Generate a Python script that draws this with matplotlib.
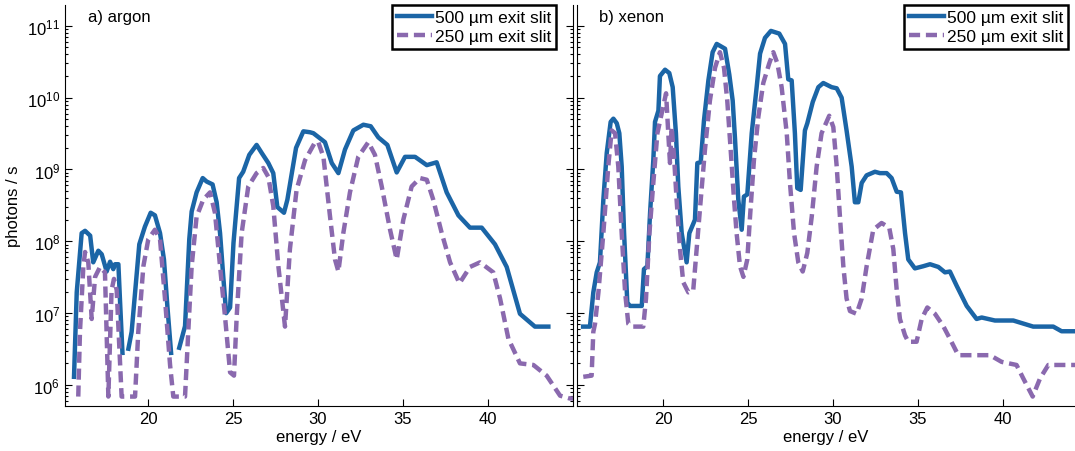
import numpy as np
import matplotlib
matplotlib.use('Agg')
import matplotlib.pyplot as plt

plt.rcParams['font.family'] = ['Liberation Sans Narrow', 'Liberation Sans', 'DejaVu Sans']
plt.rcParams['mathtext.fontset'] = 'custom'
plt.rcParams['mathtext.rm'] = 'Liberation Sans'
plt.rcParams['mathtext.it'] = 'Liberation Sans'

nan = np.nan

# argon, energy in eV and photons / s
ar_e500 = [15.65, 15.81, 16.1, 16.3, 16.6, 16.78, 17.08, 17.28, 17.57, 17.77, 17.96, 18.06, 18.26, 18.35,
           18.5, 18.7, 18.85, 19.04, 19.49, 19.82, 20.16, 20.41, 20.71, 20.94, 21.14, 21.36, 21.6, 21.84,
           22.18, 22.43, 22.57, 22.86, 23.22, 23.45, 23.8, 24.04, 24.24, 24.43, 24.6, 24.83, 25.03, 25.36,
           25.6, 25.96, 26.39, 26.69, 27.08, 27.37, 27.61, 28.0, 28.2, 28.71, 29.14, 29.53, 29.73, 30.41,
           30.81, 31.2, 31.59, 32.08, 32.67, 33.1, 33.55, 34.08, 34.63, 35.12, 35.71, 36.4, 36.98, 37.57,
           38.26, 38.94, 39.63, 40.41, 41.1, 41.88, 42.76, 43.55]
ar_p500 = [1.3e6, 1.95e7, 1.3e8, 1.4e8, 1.2e8, 5.1e7, 7.4e7, 6.6e7, 3.8e7, 5.2e7, 4.1e7, 4.8e7, 4.8e7, 1.6e7,
           2.8e6, nan, 3.2e6, 5.5e6, 9.1e7, 1.6e8, 2.5e8, 2.3e8, 1.3e8, 5.6e7, 1.26e7, 2.8e6, nan, 3.3e6,
           6.6e6, 1.07e8, 2.6e8, 4.8e8, 7.6e8, 6.8e8, 6.2e8, 3.5e8, 1.3e8, 3.2e7, 1.0e7, 1.2e7, 9.5e7, 7.6e8,
           9.3e8, 1.6e9, 2.2e9, 1.7e9, 1.23e9, 8.9e8, 3.0e8, 2.5e8, 3.8e8, 2.0e9, 3.4e9, 3.3e9, 3.2e9, 2.4e9,
           1.23e9, 8.9e8, 1.9e9, 3.5e9, 4.2e9, 4.0e9, 2.8e9, 2.2e9, 9.1e8, 1.5e9, 1.5e9, 1.15e9, 1.26e9, 4.8e8,
           2.3e8, 1.55e8, 1.55e8, 9.1e7, 4.4e7, 9.8e6, 6.5e6, 6.5e6]

ar_e250 = [15.9, 16.0, 16.2, 16.3, 16.49, 16.69, 16.89, 17.18, 17.47, 17.67, 17.86, 18.0, 18.16, 18.45,
           19.24, 19.43, 19.73, 20.02, 20.41, 20.71, 21.0, 21.3, 21.49, 22.18, 22.37, 22.57, 22.86, 23.25,
           23.65, 23.94, 24.24, 24.53, 24.83, 25.06, 25.22, 25.51, 25.9, 26.39, 26.78, 27.08, 27.37, 27.67,
           28.06, 28.35, 28.74, 29.24, 29.83, 30.02, 30.32, 30.71, 31.0, 31.2, 31.49, 31.88, 32.37, 32.96,
           33.35, 33.75, 34.24, 34.63, 35.02, 35.51, 36.0, 36.4, 36.78, 37.28, 37.77, 38.32, 38.94, 39.53,
           40.31, 40.71, 41.2, 41.88, 42.67, 43.45, 44.24, 44.8, 45.0]
ar_p250 = [6.9e5, 5.5e6, 4.5e7, 7.1e7, 5.1e7, 8.3e6, 3.2e7, 4.4e7, 3.7e7, 6.9e5, 2.1e7, 3.0e7, 2.1e7, 6.9e5,
           6.9e5, 5.5e6, 4.5e7, 1.07e8, 1.45e8, 1.07e8, 1.6e7, 1.9e6, 6.9e5, 6.9e5, 5.5e6, 4.5e7, 2.2e8, 3.8e8,
           4.8e8, 2.5e8, 4.5e7, 9.1e6, 1.5e6, 1.35e6, 9.1e6, 1.3e8, 5.8e8, 8.9e8, 1.05e9, 7.9e8, 3.1e8, 4.5e7,
           6.5e6, 7.8e7, 5.2e8, 1.35e9, 2.4e9, 2.4e9, 1.5e9, 2.2e8, 5.6e7, 3.8e7, 1.3e8, 4.8e8, 1.5e9, 2.4e9,
           1.6e9, 5.8e8, 1.45e8, 5.6e7, 2.0e8, 5.8e8, 7.6e8, 7.2e8, 3.8e8, 1.3e8, 5.1e7, 2.6e7, 4.4e7, 5.1e7,
           3.7e7, 1.6e7, 4.4e6, 2.0e6, 1.9e6, 1.35e6, 7.1e5, 6.5e5, 6.5e5]

# xenon
xe_e500 = [15.3, 15.7, 15.9, 16.1, 16.29, 16.49, 16.69, 16.92, 17.08, 17.28, 17.43, 17.57, 17.71, 17.9,
           18.06, 18.75, 18.88, 19.08, 19.24, 19.43, 19.53, 19.73, 19.82, 20.12, 20.37, 20.57, 20.76, 20.9,
           21.1, 21.39, 21.55, 21.88, 22.02, 22.22, 22.41, 22.67, 22.92, 23.16, 23.65, 23.9, 24.1, 24.24,
           24.43, 24.63, 24.76, 24.96, 25.22, 25.51, 25.71, 26.0, 26.35, 26.84, 27.18, 27.37, 27.57, 27.76,
           27.9, 28.1, 28.35, 28.49, 28.81, 29.14, 29.43, 29.92, 30.22, 30.51, 30.8, 31.1, 31.29, 31.49,
           31.69, 31.98, 32.47, 32.76, 33.16, 33.45, 33.75, 34.0, 34.24, 34.43, 34.82, 35.31, 35.71, 36.2,
           36.59, 36.88, 37.28, 37.87, 38.45, 38.75, 39.53, 40.61, 41.78, 42.96, 43.45, 44.3]
xe_p500 = [6.5e6, 6.5e6, 1.95e7, 3.7e7, 5.1e7, 3.8e8, 1.7e9, 4.6e9, 5.1e9, 4.4e9, 3.2e9, 1.1e9, 1.3e8, 1.4e7,
           1.26e7, 1.26e7, 4.1e7, 4.5e7, 2.5e8, 1.35e9, 4.6e9, 6.6e9, 2.0e10, 2.45e10, 2.2e10, 1.4e10, 3.2e9, 5.8e8,
           1.3e8, 5.1e7, 1.3e8, 2.0e8, 1.23e9, 1.26e9, 4.8e9, 1.74e10, 4.3e10, 5.6e10, 4.8e10, 2.1e10, 9.1e9, 2.6e9,
           3.8e8, 1.45e8, 4.2e8, 4.5e8, 3.2e9, 1.4e10, 4.1e10, 6.8e10, 8.5e10, 7.8e10, 5.6e10, 1.8e10, 1.74e10, 3.2e9,
           5.5e8, 5.2e8, 3.5e9, 4.4e9, 8.7e9, 1.4e10, 1.6e10, 1.4e10, 1.35e10, 1.0e10, 3.5e9, 1.1e9, 3.5e8, 3.5e8,
           6.5e8, 8.3e8, 9.3e8, 8.9e8, 8.9e8, 7.6e8, 4.9e8, 4.8e8, 1.3e8, 5.6e7, 4.2e7, 4.5e7, 4.8e7, 4.4e7,
           3.7e7, 3.8e7, 2.4e7, 1.26e7, 8.3e6, 8.7e6, 7.9e6, 7.9e6, 6.5e6, 6.5e6, 5.6e6, 5.6e6]

xe_e250 = [15.31, 15.8, 15.9, 16.0, 16.2, 16.49, 16.78, 16.98, 17.18, 17.37, 17.57, 17.77, 17.96, 18.16,
           18.84, 19.0, 19.2, 19.43, 19.67, 19.92, 20.18, 20.31, 20.41, 20.51, 20.65, 20.8, 21.0, 21.19,
           21.49, 21.78, 21.98, 22.22, 22.47, 22.76, 23.06, 23.35, 23.59, 23.78, 23.98, 24.18, 24.33, 24.53,
           24.73, 24.96, 25.12, 25.35, 25.61, 25.9, 26.25, 26.49, 26.73, 26.98, 27.28, 27.47, 27.71, 27.96,
           28.22, 28.49, 28.75, 29.04, 29.33, 29.78, 30.02, 30.22, 30.41, 30.61, 30.8, 31.0, 31.39, 31.69,
           31.98, 32.37, 32.86, 33.31, 33.55, 33.75, 33.94, 34.24, 34.43, 34.92, 35.22, 35.55, 36.0, 36.49,
           36.88, 37.37, 38.06, 39.24, 39.92, 40.8, 41.2, 41.75, 42.18, 42.67, 44.3]
xe_p250 = [1.3e6, 1.35e6, 5.5e6, 7.1e6, 1.95e7, 1.3e8, 1.1e9, 3.5e9, 3.2e9, 1.1e9, 1.3e8, 1.95e7, 7.1e6, 6.5e6,
           6.5e6, 1.6e7, 1.3e8, 6.5e8, 3.2e9, 6.0e9, 1.15e10, 3.2e9, 1.23e9, 3.9e9, 1.5e9, 3.8e8, 7.8e7, 2.7e7,
           1.95e7, 2.1e7, 7.8e7, 3.8e8, 1.9e9, 9.1e9, 2.6e10, 4.3e10, 2.6e10, 9.1e9, 1.9e9, 3.8e8, 1.3e8, 4.5e7,
           3.2e7, 5.6e7, 2.2e8, 1.35e9, 5.4e9, 1.6e10, 3.0e10, 4.3e10, 3.0e10, 1.4e10, 3.2e9, 6.5e8, 1.3e8, 5.1e7,
           3.8e7, 6.9e7, 2.2e8, 1.1e9, 3.2e9, 5.6e9, 3.9e9, 1.1e9, 2.2e8, 4.5e7, 1.6e7, 1.07e7, 9.8e6, 1.6e7,
           4.5e7, 1.45e8, 1.8e8, 1.55e8, 7.8e7, 2.1e7, 8.3e6, 4.9e6, 4.0e6, 4.0e6, 8.3e6, 1.2e7, 9.8e6, 6.6e6,
           4.4e6, 2.6e6, 2.6e6, 2.6e6, 2.1e6, 1.9e6, 1.23e6, 6.9e5, 1.23e6, 1.9e6, 1.9e6]

blue = '#1b65a6'
purple = '#8a69ae'

fig = plt.figure(figsize=(10.75, 4.52), dpi=100)
W, H = 1075.0, 452.0
ax1 = fig.add_axes([65 / W, (H - 407) / H, (573 - 65) / W, (407 - 6) / H])
ax2 = fig.add_axes([577 / W, (H - 407) / H, (1075 - 577) / W, (407 - 6) / H])

panels = [(ax1, ar_e500, ar_p500, ar_e250, ar_p250, 'a) argon', (15.12, 45.0), 0.967),
          (ax2, xe_e500, xe_p500, xe_e250, xe_p250, 'b) xenon', (14.94, 44.24), 0.986)]

for ax, e5, p5, e2, p2, name, xl, lx in panels:
    ax.plot(e5, p5, color=blue, lw=3.2, solid_joinstyle='round', label='500 µm exit slit')
    ax.plot(e2, p2, color=purple, lw=3.2, dashes=(2.5, 1.3), label='250 µm exit slit')
    ax.set_yscale('log')
    ax.set_xlim(*xl)
    ax.set_ylim(5.1e5, 1.95e11)
    ax.set_xticks([20, 25, 30, 35, 40])
    ax.spines['top'].set_visible(False)
    ax.tick_params(which='both', direction='in', labelsize=12, width=0.8)
    ax.tick_params(which='major', length=5)
    ax.tick_params(which='minor', length=2.5)
    ax.set_xlabel('energy / eV', fontsize=12, labelpad=2)
    ax.text(0.045, 0.99, name, transform=ax.transAxes, fontsize=12,
            family=['Liberation Sans', 'DejaVu Sans'], va='top')
    leg = ax.legend(loc='upper right', bbox_to_anchor=(lx, 1.0), borderaxespad=0,
                    fancybox=False, framealpha=1, edgecolor='black', handlelength=2.0,
                    handletextpad=0.15, borderpad=0.3, labelspacing=0.2,
                    prop={'family': ['Liberation Sans', 'DejaVu Sans'], 'size': 12.5})
    leg.get_frame().set_linewidth(1.8)

ax1.tick_params(which='both', right=True)
ax1.set_ylabel('photons / s', fontsize=12, labelpad=4)
ax2.spines['right'].set_visible(False)
ax2.tick_params(axis='y', which='both', labelleft=False)

fig.savefig('out.png', dpi=100)
